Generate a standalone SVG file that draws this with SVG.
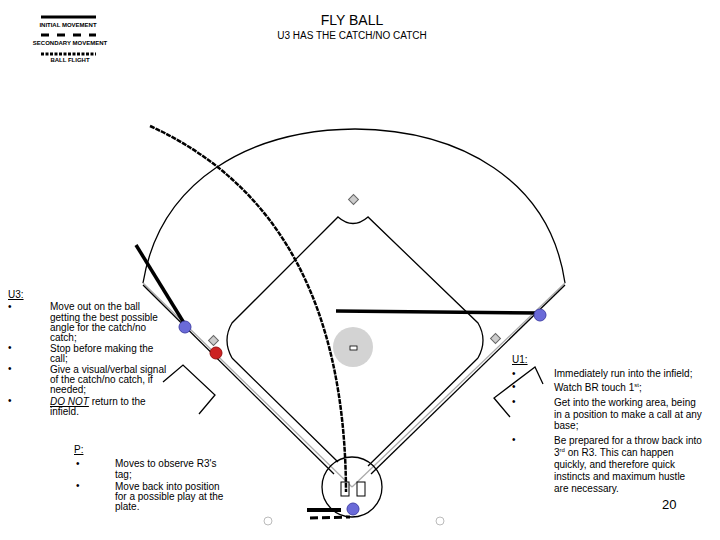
<svg xmlns="http://www.w3.org/2000/svg" width="720" height="540" viewBox="0 0 720 540">
<style>
text{font-family:"Liberation Sans",Arial,sans-serif;fill:#000}
.t{font-size:10px}
.lg{font-size:6px;text-anchor:middle;font-weight:bold}
.k{fill:none;stroke:#000;stroke-width:1.3}
.g{fill:none;stroke:#aaa;stroke-width:1.3}
.base{fill:#ccc;stroke:#666;stroke-width:1}
.ump{fill:#6a6ad8;stroke:#4444aa;stroke-width:1}
.ul{text-decoration:underline}
</style>
<rect width="720" height="540" fill="#fff"/>
<text x="352" y="25" text-anchor="middle" style="font-size:14px">FLY BALL</text>
<text x="352" y="39" text-anchor="middle" style="font-size:10px">U3 HAS THE CATCH/NO CATCH</text>
<g id="legend">
<line x1="41" y1="17" x2="96" y2="17" stroke="#000" stroke-width="3"/>
<text x="68" y="27" class="lg">INITIAL MOVEMENT</text>
<line x1="41" y1="35" x2="96" y2="35" stroke="#000" stroke-width="3" stroke-dasharray="8,8"/>
<text x="70" y="45" class="lg">SECONDARY MOVEMENT</text>
<line x1="41" y1="54" x2="96" y2="54" stroke="#000" stroke-width="3" stroke-dasharray="3,1.5"/>
<text x="70" y="62" class="lg">BALL FLIGHT</text>
</g>
<g id="field">
<path class="k" d="M143,283 C160,180 250,130 355,129 C460,130 550,180 565,283"/>
<line class="g" x1="143" y1="283" x2="352" y2="487"/>
<line class="g" x1="565" y1="283" x2="352" y2="487"/>
<line class="k" x1="143" y1="285" x2="334" y2="474"/>
<line class="k" x1="565" y1="285" x2="371" y2="474"/>
<path class="k" d="M232,358 L338,462 M478,358 L368,466"/>
<path class="k" d="M232,358 Q222,340 232,323 L338,217 Q353,230 368,217 L478,323 Q488,340 478,358"/>
<circle cx="352" cy="487" r="30" class="k"/>
<rect x="341" y="482" width="8" height="14" fill="#fff" stroke="#000"/>
<rect x="357" y="482" width="8" height="14" fill="#fff" stroke="#000"/>
<circle cx="353" cy="347" r="20" fill="#d3d3d3"/>
<rect x="350" y="346" width="7" height="4" fill="#fff" stroke="#000" stroke-width="0.8"/>
<rect class="base" x="350" y="196" width="7" height="7" transform="rotate(45 353.5 199.5)"/>
<rect class="base" x="210" y="337" width="7" height="7" transform="rotate(45 213.5 340.5)"/>
<rect class="base" x="492" y="335" width="7" height="7" transform="rotate(45 495.5 338.5)"/>
<path class="k" d="M163,382 L183,365 L215,395 L199,414"/>
<path class="k" d="M543,384 L535,367 L494,398 L510,417"/>
<circle cx="268" cy="521" r="4" fill="#fff" stroke="#bbb"/>
<circle cx="440" cy="521" r="4" fill="#fff" stroke="#bbb"/>
</g>
<g id="connectors">
<line x1="136" y1="245" x2="184" y2="323" stroke="#000" stroke-width="3.5"/>
<line x1="336" y1="311" x2="540" y2="313" stroke="#000" stroke-width="3.5"/>
<path d="M150,126 Q345,215 346,492" fill="none" stroke="#000" stroke-width="2.5" stroke-dasharray="5,1"/>
<line x1="307" y1="510" x2="341" y2="510" stroke="#000" stroke-width="4"/>
<line x1="310" y1="518" x2="350" y2="517" stroke="#000" stroke-width="3" stroke-dasharray="8,4"/>
</g>
<g id="U3"><circle cx="185" cy="327" r="6" class="ump"/></g>
<g id="R3"><circle cx="216" cy="353" r="6" fill="#cc2222" stroke="#991111"/></g>
<g id="U1"><circle cx="540" cy="315" r="6" class="ump"/></g>
<g id="P"><circle cx="353" cy="509" r="6" class="ump"/></g>
<g id="text-u3" class="t">
<text x="8" y="298" class="ul">U3:</text>
<text x="8" y="310">•</text><text x="50" y="310">Move out on the ball</text>
<text x="50" y="321">getting the best possible</text>
<text x="50" y="331">angle for the catch/no</text>
<text x="50" y="341">catch;</text>
<text x="8" y="351">•</text><text x="50" y="352">Stop before making the</text>
<text x="50" y="362">call;</text>
<text x="8" y="372">•</text><text x="50" y="373">Give a visual/verbal signal</text>
<text x="50" y="383">of the catch/no catch, if</text>
<text x="50" y="393">needed;</text>
<text x="8" y="404">•</text><text x="50" y="405"><tspan class="ul" font-style="italic">DO NOT</tspan> return to the</text>
<text x="50" y="415">infield.</text>
</g>
<g id="text-p" class="t">
<text x="74" y="453" class="ul">P:</text>
<text x="76" y="467">•</text><text x="115" y="467">Moves to observe R3's</text>
<text x="115" y="478">tag;</text>
<text x="76" y="489">•</text><text x="115" y="490">Move back into position</text>
<text x="115" y="500">for a possible play at the</text>
<text x="115" y="510">plate.</text>
</g>
<g id="text-u1" class="t">
<text x="512" y="363" class="ul">U1:</text>
<text x="512" y="377">•</text><text x="554" y="377">Immediately run into the infield;</text>
<text x="512" y="390">•</text><text x="554" y="391">Watch BR touch 1<tspan font-size="6" dy="-4">st</tspan><tspan dy="4">;</tspan></text>
<text x="512" y="405">•</text><text x="554" y="406">Get into the working area, being</text>
<text x="554" y="418">in a position to make a call at any</text>
<text x="554" y="429">base;</text>
<text x="512" y="443">•</text><text x="554" y="444">Be prepared for a throw back into</text>
<text x="554" y="456">3<tspan font-size="6" dy="-4">rd</tspan><tspan dy="4"> on R3.  This can happen</tspan></text>
<text x="554" y="468">quickly, and therefore quick</text>
<text x="554" y="480">instincts and maximum hustle</text>
<text x="554" y="492">are necessary.</text>
<text x="662" y="509" style="font-size:13px">20</text>
</g>
</svg>
